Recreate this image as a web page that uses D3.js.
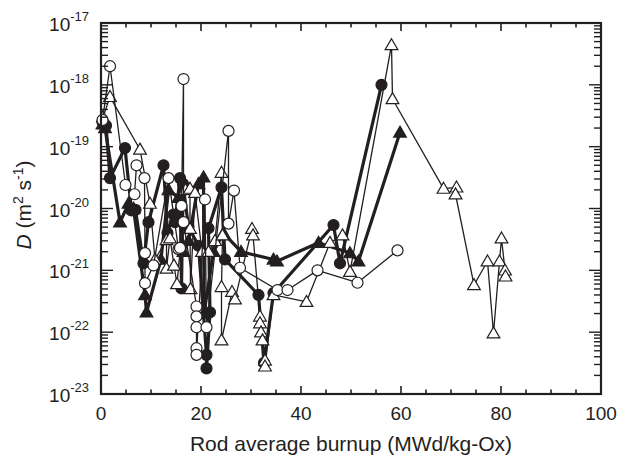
<!DOCTYPE html>
<html><head><meta charset="utf-8">
<script src="https://cdn.jsdelivr.net/npm/d3@7"></script>
<style>body{margin:0;background:#fff;}svg{display:block;}text{font-family:"Liberation Sans",Arial,sans-serif;fill:#231f20;}</style>
</head><body>
<svg id="c" width="620" height="458"></svg>
<script>
// Open circles (thin line)
const ocBurnup = [0.3, 1.8, 4.9, 6.7, 7.1, 8.7, 8.8, 8.8, 10.5, 13.5, 15.5, 15.8, 16.1, 16.5, 16.5, 19.1, 19.1, 19.1, 19.1, 19.1, 20.8, 21.1, 25.5, 25.5, 26.6, 27.8, 35.3, 37.3, 43.3, 51.3, 59.3];
const ocD = [2.7e-19, 2.0e-18, 2.4e-20, 1.7e-20, 5.0e-20, 3.1e-20, 1.9e-21, 6.2e-22, 1.2e-21, 3.1e-20, 2.2e-21, 2.3e-21, 1.1e-20, 1.24e-18, 6e-21, 2.6e-22, 1.8e-22, 1.2e-22, 5.5e-23, 4.3e-23, 1.4e-20, 1.2e-22, 1.8e-19, 5.7e-21, 1.95e-20, 1.1e-21, 4.8e-22, 4.8e-22, 1.0e-21, 6.3e-22, 2.1e-21];
// Open triangles (thin line)
const otBurnup = [0.4, 1.8, 7.8, 9.8, 10.8, 13.1, 13.1, 13.8, 14.6, 15.2, 16.9, 17.8, 17.8, 17.9, 18.8, 20.2, 21.5, 22.8, 24.1, 24.3, 24.1, 24.1, 26.2, 26.8, 30.2, 30.4, 31.8, 31.8, 32.0, 32.3, 32.8, 32.8, 34.5, 41.1, 45.8, 48.3, 49.8, 58.1, 58.3, 68.5, 71.1, 70.9, 74.6, 77.3, 78.5, 79.7, 80.1, 80.8, 80.9];
const otD = [3.0e-19, 6.4e-19, 9e-20, 1.2e-20, 1.5e-21, 3.1e-21, 1.07e-21, 3.3e-21, 1.2e-21, 6e-22, 2e-20, 2.1e-20, 4.7e-21, 5e-22, 1.8e-20, 2e-21, 2e-21, 3e-21, 3.8e-20, 3.7e-21, 5.4e-22, 7.4e-23, 4.5e-22, 3.4e-22, 4.7e-21, 3.7e-21, 1.8e-22, 1.4e-22, 1.0e-22, 7.4e-23, 3.5e-23, 2.8e-23, 4e-22, 3.1e-22, 2.8e-21, 3.7e-21, 9.5e-22, 4.4e-18, 5.9e-19, 2.1e-20, 2.2e-20, 1.7e-20, 5.8e-22, 1.4e-21, 9.6e-23, 1.4e-21, 3.3e-21, 1.0e-21, 8e-22];
// Filled circles (thick line)
const fcBurnup = [0.3, 1.0, 1.8, 4.8, 6.1, 6.9, 8.5, 9.5, 12.5, 13.3, 14.5, 14.8, 15.8, 16.1, 16.4, 17.5, 19.5, 21.1, 21.1, 21.8, 21.5, 24.1, 24.8, 31.5, 32.6, 34.5, 46.5, 47.8, 56.1];
const fcD = [2.5e-19, 2.2e-19, 3.1e-20, 9.5e-20, 9.3e-21, 9.5e-21, 1.3e-21, 6e-21, 5e-20, 4e-21, 8e-21, 6e-21, 3.1e-20, 5.1e-22, 2.5e-20, 5e-21, 2.5e-21, 4.3e-23, 2.6e-23, 2.1e-22, 4.8e-21, 2.2e-20, 1.5e-21, 4e-22, 3.2e-23, 4.3e-22, 5.4e-21, 1.3e-21, 1.0e-18];
// Filled triangles (thick line)
const ftBurnup = [0.3, 0.8, 3.8, 5.5, 6.5, 8.8, 9.1, 12.0, 13.5, 15.5, 16.5, 17.5, 19.5, 20.5, 20.6, 22.5, 24.5, 28.0, 34.5, 35.2, 43.5, 49.8, 51.5, 59.8];
const ftD = [2.3e-19, 2.0e-19, 6e-21, 1.2e-20, 1.0e-20, 4e-22, 2.1e-22, 1.5e-21, 2e-20, 1.5e-20, 2e-21, 3e-21, 2.5e-20, 3.2e-20, 2e-22, 2e-21, 4e-21, 2e-21, 1.5e-21, 1.4e-21, 2.8e-21, 1.9e-21, 1.4e-21, 1.7e-19];

const xTicks = [0, 20, 40, 60, 80, 100];
const yExps = [-17, -18, -19, -20, -21, -22, -23];

const L = 101, R = 601, T = 23, B = 394;
const svg = d3.select("#c");
const x = d3.scaleLinear().domain([0, 100]).range([L, R]);
const y = d3.scaleLog().domain([1e-23, 1e-17]).range([B, T]);

const ink = "#231f20";
const g = svg.append("g");

function series(bx, dv, thick, shape, filled) {
  const pts = bx.map((b, i) => [b, dv[i]]);
  g.append("path").datum(pts)
    .attr("fill", "none").attr("stroke", ink)
    .attr("stroke-width", thick ? 3.2 : 1.3)
    .attr("stroke-linejoin", "round")
    .attr("d", d3.line().x(d => x(d[0])).y(d => y(d[1])));
  const sym = shape === "c" ? d3.symbolCircle : d3.symbolTriangle;
  const size = shape === "c" ? 95 : 70;
  g.selectAll(null).data(pts).enter().append("path")
    .attr("transform", d => `translate(${x(d[0])},${y(d[1]) + (shape === "c" ? 0 : 1)})`)
    .attr("d", d3.symbol().type(sym).size(size))
    .attr("fill", filled ? ink : "#fff")
    .attr("stroke", ink).attr("stroke-width", 1.2);
}
series(ftBurnup, ftD, true, "t", true);
series(fcBurnup, fcD, true, "c", true);
series(otBurnup, otD, false, "t", false);
series(ocBurnup, ocD, false, "c", false);

// axes frame & ticks
const ax = svg.append("g").attr("stroke", ink).attr("fill", "none");
const xMinor = d3.range(0, 101, 5);
xMinor.forEach(v => {
  const len = v % 20 === 0 ? 8 : 4.5;
  ax.append("line").attr("x1", x(v)).attr("x2", x(v)).attr("y1", B).attr("y2", B - len).attr("stroke-width", 1.6);
  ax.append("line").attr("x1", x(v)).attr("x2", x(v)).attr("y1", T).attr("y2", T + len).attr("stroke-width", 1.6);
});
for (let e = -23; e < -17; e++) {
  for (let m = 1; m <= 9; m++) {
    const v = m * Math.pow(10, e);
    const len = m === 1 ? 12 : 7;
    ax.append("line").attr("x1", L).attr("x2", L + len).attr("y1", y(v)).attr("y2", y(v)).attr("stroke-width", 1.4);
    ax.append("line").attr("x1", R).attr("x2", R - len).attr("y1", y(v)).attr("y2", y(v)).attr("stroke-width", 1.4);
  }
}
ax.append("line").attr("x1", L).attr("x2", L + 12).attr("y1", T).attr("y2", T).attr("stroke-width", 1.4);
ax.append("rect").attr("x", L).attr("y", T).attr("width", R - L).attr("height", B - T).attr("stroke-width", 2.2);

// x tick labels
svg.selectAll(".xl").data(xTicks).enter().append("text")
  .attr("x", d => x(d)).attr("y", B + 26).attr("text-anchor", "middle")
  .attr("font-size", 19).text(d => d);
// y tick labels
yExps.forEach(e => {
  const t = svg.append("text").attr("x", 89).attr("y", y(Math.pow(10, e)) + 8)
    .attr("text-anchor", "end").attr("font-size", 19);
  t.append("tspan").text("10");
  t.append("tspan").attr("dy", -10).attr("font-size", 13).text("-" + Math.abs(e));
});
// axis titles
svg.append("text").attr("x", 351).attr("y", 451).attr("text-anchor", "middle")
  .attr("font-size", 21).text("Rod average burnup (MWd/kg-Ox)");
const yt = svg.append("text").attr("transform", "translate(31,205) rotate(-90)")
  .attr("text-anchor", "middle").attr("font-size", 21);
yt.append("tspan").attr("font-style", "italic").text("D");
yt.append("tspan").text(" (m");
yt.append("tspan").attr("dy", -8).attr("font-size", 14).text("2");
yt.append("tspan").attr("dy", 8).text(" s");
yt.append("tspan").attr("dy", -8).attr("font-size", 14).text("-1");
yt.append("tspan").attr("dy", 8).text(")");
</script>
</body></html>
